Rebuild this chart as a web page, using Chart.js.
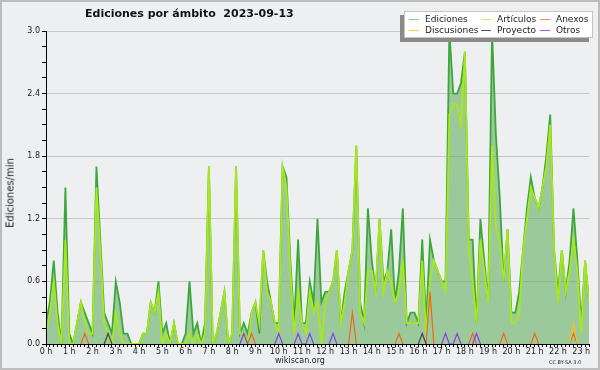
<!DOCTYPE html>
<html>
<head>
<meta charset="utf-8">
<script src="https://cdn.jsdelivr.net/npm/chart.js@4.4.0/dist/chart.umd.min.js"></script>
<style>
    body { margin: 0; background: #fff; }
    #wrap { position: relative; width: 600px; height: 370px; background: #eeeff1; font-family: "DejaVu Sans", sans-serif; color: #222; overflow: hidden; }
    #frame { position: absolute; left: 0; top: 0; width: 600px; height: 370px; box-sizing: border-box; border: 2px solid #bdbdbd; pointer-events: none; }
    canvas { position: absolute; left: 0; top: 0; }
    .title { position: absolute; left: 85px; top: 7px; font-size: 11px; font-weight: bold; white-space: pre; color: #111; }
    .ytitle { position: absolute; left: 10px; top: 193px; font-size: 10px; white-space: nowrap; transform: translate(-50%, -50%) rotate(-90deg); }
    .legend { position: absolute; left: 404px; top: 11px; width: 189px; height: 27px; box-sizing: border-box; background: #fff; border: 1px solid #c4c4c4; box-shadow: -4px 4px 0 #8a8a8a; }
    .item { position: absolute; font-size: 9px; line-height: 10px; white-space: nowrap; }
    .item i { position: absolute; left: -16px; top: 5px; width: 10px; height: 1px; }
    .footer { position: absolute; left: 0; width: 600px; top: 356px; text-align: center; font-size: 8px; }
    .cc { position: absolute; left: 549px; top: 359px; font-size: 5px; }
</style>
</head>
<body>
<div id="wrap">
    <canvas id="editsChart" width="600" height="370"></canvas>
    <div class="title">Ediciones por ámbito  2023-09-13</div>
    <div class="ytitle">Ediciones/min</div>
    <div class="legend">
        <div class="item" style="left:20px;top:2px"><i style="background:#88cc88"></i>Ediciones</div>
        <div class="item" style="left:92px;top:2px"><i style="background:#c8ec5c"></i>Artículos</div>
        <div class="item" style="left:151px;top:2px"><i style="background:#f08860"></i>Anexos</div>
        <div class="item" style="left:20px;top:13px"><i style="background:#f8cc44"></i>Discusiones</div>
        <div class="item" style="left:92px;top:13px"><i style="background:#555555"></i>Proyecto</div>
        <div class="item" style="left:151px;top:13px"><i style="background:#9955ee"></i>Otros</div>
    </div>
    <div class="footer">wikiscan.org</div>
    <div class="cc">CC BY-SA 3.0</div>
    <div id="frame"></div>
</div>
<script>
// ===========================
// Data: one value every 10 minutes, 00:00 -> 23:20 (one row per hour)
// ===========================
const hourLabels = ['0 h', '1 h', '2 h', '3 h', '4 h', '5 h', '6 h', '7 h', '8 h', '9 h', '10 h', '11 h',
    '12 h', '13 h', '14 h', '15 h', '16 h', '17 h', '18 h', '19 h', '20 h', '21 h', '22 h', '23 h'];

const ediciones = [
    0.2, 0.4, 0.8, 0.3, 0, 1.5,
    0.1, 0, 0.2, 0.4, 0.3, 0.2,
    0.1, 1.7, 1.0, 0.3, 0.2, 0.1,
    0.6, 0.4, 0.1, 0.1, 0, 0,
    0, 0.1, 0.1, 0.4, 0.3, 0.6,
    0.1, 0.2, 0, 0.2, 0, 0,
    0.1, 0.6, 0.1, 0.2, 0, 0.2,
    1.7, 0, 0.1, 0.3, 0.5, 0,
    0.1, 1.7, 0.1, 0.2, 0.1, 0.3,
    0.4, 0.1, 0.9, 0.6, 0.4, 0.2,
    0.2, 1.7, 1.6, 0.8, 0.2, 1.0,
    0.2, 0.2, 0.6, 0.4, 1.2, 0.4,
    0.5, 0.5, 0.6, 0.9, 0.2, 0.5,
    0.7, 0.9, 1.9, 0.4, 0.2, 1.3,
    0.8, 0.5, 1.2, 0.6, 0.7, 1.1,
    0.4, 0.7, 1.3, 0.2, 0.3, 0.3,
    0.2, 1.0, 0.2, 1.0, 0.8, 0.7,
    0.6, 0.6, 3.0, 2.4, 2.4, 2.5,
    2.8, 1.0, 1.0, 0.2, 1.2, 0.8,
    0.4, 3.0, 2.0, 1.4, 0.6, 1.1,
    0.3, 0.3, 0.5, 0.9, 1.3, 1.6,
    1.4, 1.3, 1.5, 1.8, 2.2, 0.9,
    0.5, 0.9, 0.5, 0.8, 1.3, 0.8,
    0.2, 0.8, 0.4
];

const articulos = [
    0.1, 0.3, 0.6, 0.2, 0, 1.0,
    0, 0, 0.2, 0.4, 0.2, 0.1,
    0.1, 1.5, 0.9, 0.2, 0.1, 0,
    0.3, 0.1, 0, 0, 0, 0,
    0, 0.1, 0.1, 0.4, 0.3, 0.5,
    0, 0.1, 0, 0.2, 0, 0,
    0, 0.1, 0, 0.1, 0, 0.1,
    1.7, 0, 0.1, 0.3, 0.5, 0,
    0.1, 1.7, 0.1, 0.1, 0, 0.3,
    0.4, 0.2, 0.9, 0.5, 0.4, 0.2,
    0.1, 1.7, 1.5, 0.7, 0.1, 0.5,
    0.2, 0.1, 0.5, 0.3, 0.4, 0,
    0.4, 0.5, 0.6, 0.9, 0.2, 0.4,
    0.7, 0.9, 1.9, 0.3, 0.2, 0.7,
    0.7, 0.5, 1.2, 0.5, 0.7, 0.6,
    0.4, 0.5, 0.8, 0.2, 0.2, 0.2,
    0.2, 0.8, 0.1, 0.6, 0.8, 0.7,
    0.6, 0.5, 2.2, 2.3, 2.3, 2.1,
    2.8, 0.9, 0.6, 0.2, 1.0, 0.7,
    0.4, 1.9, 1.1, 1.0, 0.6, 1.1,
    0.2, 0.2, 0.3, 0.9, 1.2, 1.5,
    1.4, 1.3, 1.5, 1.7, 2.1, 0.9,
    0.4, 0.9, 0.5, 0.7, 1.0, 0.7,
    0.1, 0.8, 0.4
];

const anexos = [
    0, 0, 0, 0, 0, 0,
    0, 0, 0, 0, 0.1, 0,
    0, 0, 0, 0, 0, 0,
    0, 0, 0, 0, 0, 0,
    0, 0, 0, 0, 0, 0,
    0, 0, 0, 0, 0, 0,
    0, 0, 0, 0, 0, 0,
    0, 0, 0, 0, 0, 0,
    0, 0, 0, 0, 0, 0.1,
    0, 0, 0, 0, 0, 0,
    0, 0, 0, 0, 0, 0,
    0, 0, 0, 0, 0, 0,
    0, 0, 0, 0, 0, 0,
    0, 0.3, 0, 0, 0, 0,
    0, 0, 0, 0, 0, 0,
    0, 0.1, 0, 0, 0, 0,
    0, 0, 0, 0.5, 0, 0,
    0, 0, 0, 0, 0, 0,
    0, 0, 0.1, 0, 0, 0,
    0, 0, 0, 0, 0.1, 0,
    0, 0, 0, 0, 0, 0,
    0.1, 0, 0, 0, 0, 0,
    0, 0, 0, 0, 0.1, 0,
    0, 0, 0
];

const discusiones = [
    0, 0, 0, 0, 0, 0,  0, 0, 0, 0, 0, 0,  0, 0, 0, 0, 0, 0,  0, 0, 0, 0, 0, 0,
    0, 0, 0, 0, 0, 0,  0, 0, 0, 0, 0, 0,  0, 0, 0, 0, 0, 0,  0, 0, 0, 0, 0, 0,
    0, 0, 0, 0, 0, 0,  0, 0, 0, 0, 0, 0,  0, 0, 0, 0, 0, 0,  0, 0, 0, 0, 0, 0,
    0, 0, 0, 0, 0, 0,  0, 0, 0, 0, 0, 0,  0, 0, 0, 0, 0, 0,  0, 0, 0, 0, 0, 0,
    0, 0, 0, 0, 0, 0,  0, 0, 0, 0, 0, 0,  0, 0, 0, 0, 0, 0,  0, 0, 0, 0, 0, 0,
    0, 0, 0, 0, 0, 0,  0, 0, 0, 0, 0, 0,  0, 0, 0, 0, 0.2, 0,
    0, 0, 0
];

const proyecto = [
    0, 0, 0, 0, 0, 0,  0, 0, 0, 0, 0, 0,  0, 0, 0, 0, 0.1, 0,  0, 0, 0, 0, 0, 0,
    0, 0, 0, 0, 0, 0,  0, 0, 0, 0, 0, 0,  0, 0, 0, 0, 0, 0,  0, 0, 0, 0, 0, 0,
    0, 0, 0, 0, 0, 0,  0, 0, 0, 0, 0, 0,  0, 0, 0, 0, 0, 0,  0, 0, 0, 0, 0, 0,
    0, 0, 0, 0, 0, 0,  0, 0, 0, 0, 0, 0,  0, 0, 0, 0, 0, 0,  0, 0, 0, 0, 0, 0,
    0, 0.1, 0, 0, 0, 0,  0, 0, 0, 0, 0, 0,  0, 0, 0, 0, 0, 0,  0, 0, 0, 0, 0, 0,
    0, 0, 0, 0, 0, 0,  0, 0, 0, 0, 0, 0,  0, 0, 0, 0, 0, 0,
    0, 0, 0
];

const otros = [
    0, 0, 0, 0, 0, 0,  0, 0, 0, 0, 0, 0,  0, 0, 0, 0, 0, 0,  0, 0, 0, 0, 0, 0,
    0, 0, 0, 0, 0, 0,  0, 0, 0, 0, 0, 0,  0, 0, 0, 0, 0, 0,  0, 0, 0, 0, 0, 0,
    0, 0, 0, 0.1, 0, 0,  0, 0, 0, 0, 0, 0,  0.1, 0, 0, 0, 0, 0.1,  0, 0, 0.1, 0, 0, 0,
    0, 0, 0.1, 0, 0, 0,  0, 0, 0, 0, 0, 0,  0, 0, 0, 0, 0, 0,  0, 0, 0, 0, 0, 0,
    0, 0, 0, 0, 0, 0,  0, 0.1, 0, 0, 0.1, 0,  0, 0, 0, 0.1, 0, 0,  0, 0, 0, 0, 0, 0,
    0, 0, 0, 0, 0, 0,  0, 0, 0, 0, 0, 0,  0, 0, 0, 0, 0, 0,
    0, 0, 0
];

const yMax = 3.0;
const yMinorStep = 0.15;
const yMajorStep = 0.6;

// ===========================
// Helpers
// ===========================
// x = slot index (10 min), small series only drawn around their non-zero slots
function toPoints(arr, sparse) {
    return arr.map((v, i) => {
        if (sparse && v === 0 && !arr[i - 1] && !arr[i + 1]) return { x: i, y: null };
        return { x: i, y: v };
    });
}

function isMajor(v) {
    const r = v / yMajorStep;
    return Math.abs(r - Math.round(r)) < 1e-6;
}

const tickFont = { family: 'DejaVu Sans', size: 8 };

// ===========================
// Chart
// ===========================
const ctx = document.getElementById('editsChart').getContext('2d');
const editsChart = new Chart(ctx, {
    type: 'line',
    data: {
        datasets: [
            { label: 'Otros', data: toPoints(otros, true), borderColor: '#8a3cf0', borderWidth: 1.2, order: 1 },
            { label: 'Proyecto', data: toPoints(proyecto, true), borderColor: '#444444', borderWidth: 1.2, order: 1 },
            { label: 'Discusiones', data: toPoints(discusiones, true), borderColor: '#f5c020', borderWidth: 1.2, order: 1 },
            { label: 'Anexos', data: toPoints(anexos, true), borderColor: '#f2661c', borderWidth: 1.2, order: 1 },
            { label: 'Artículos', data: toPoints(articulos, false), borderColor: '#a8e81a', borderWidth: 1.8, order: 2 },
            {
                label: 'Ediciones',
                data: toPoints(ediciones, false),
                borderColor: '#3ca83c',
                borderWidth: 1.8,
                backgroundColor: 'rgba(90, 170, 85, 0.55)',
                fill: 'origin',
                order: 3
            }
        ]
    },
    options: {
        responsive: false,
        animation: false,
        layout: { padding: { left: 0, right: 11, top: 31, bottom: 0 } },
        elements: {
            point: { radius: 0 },
            line: { tension: 0, fill: false }
        },
        plugins: {
            legend: { display: false },
            tooltip: { enabled: false }
        },
        scales: {
            x: {
                type: 'linear',
                min: 0,
                max: ediciones.length - 1,
                afterFit: (scale) => { scale.height = 26; },
                grid: { drawOnChartArea: false, drawTicks: true, tickLength: 3, tickColor: '#000' },
                border: { color: '#000', z: 1 },
                ticks: {
                    stepSize: 1,
                    autoSkip: false,
                    maxRotation: 0,
                    padding: 0,
                    color: '#222',
                    font: tickFont,
                    callback: (v) => (v % 6 === 0 ? hourLabels[v / 6] : '')
                }
            },
            y: {
                min: 0,
                max: yMax,
                afterFit: (scale) => { scale.width = 46; },
                grid: {
                    color: (c) => (c.tick && isMajor(c.tick.value) ? '#c8c8c8' : 'rgba(0,0,0,0)'),
                    tickColor: '#000',
                    tickLength: 4
                },
                border: { color: '#000', z: 1 },
                ticks: {
                    stepSize: yMinorStep,
                    autoSkip: false,
                    padding: 2,
                    color: '#222',
                    font: tickFont,
                    callback: (v) => (isMajor(v) ? v.toFixed(1) : '')
                }
            }
        }
    }
});
</script>
</body>
</html>
